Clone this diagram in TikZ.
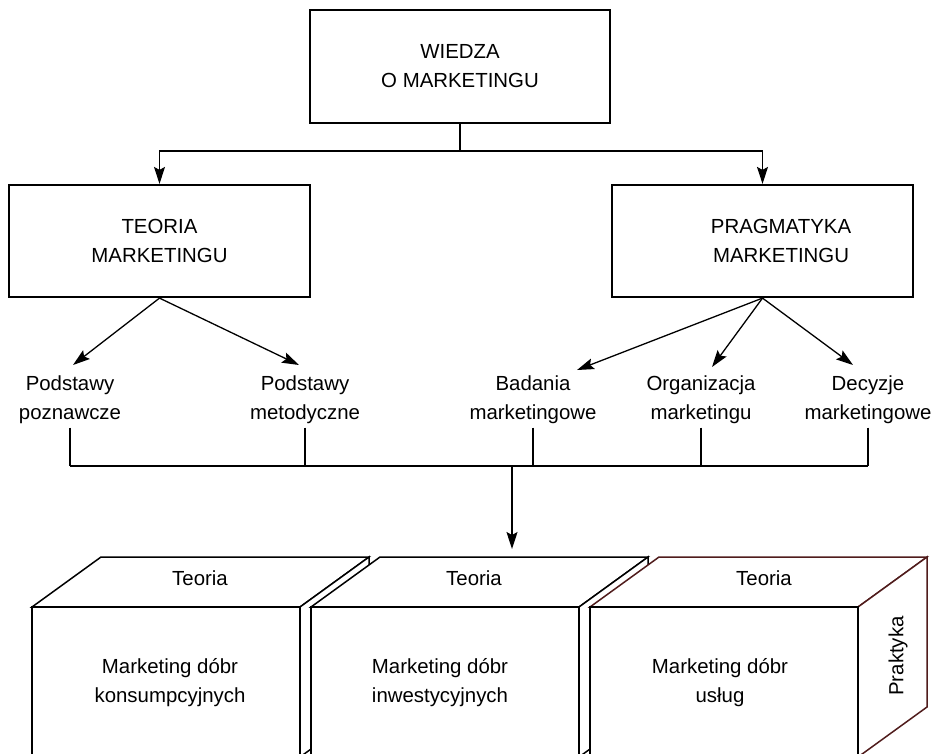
\documentclass[tikz,border=0pt]{standalone}
\usepackage{fontspec}
\setmainfont{Liberation Sans}
\usetikzlibrary{arrows.meta}
\definecolor{edgebrown}{RGB}{80,28,28}
\begin{document}
\begin{tikzpicture}[x=1pt,y=-1pt,
  every node/.style={font=\fontsize{20.4}{29}\selectfont, inner sep=0pt, align=center},
  box/.style={draw, line width=2.2pt, fill=white},
  conn/.style={line width=1.3pt},
  arr/.style={conn, -{Stealth[length=17pt,width=11pt,inset=3pt]}},
  front/.style={draw, line width=2.5pt, fill=white},
  face/.style={draw, line width=1.5pt, fill=white, line join=miter},
]
\useasboundingbox (0,0) rectangle (936,753);
\clip (0,0) rectangle (936,753);

% --- boxes ---
\node[box, minimum width=300pt, minimum height=113pt] (wiedza) at (460,66.5) {WIEDZA\\O MARKETINGU};
\node[box, minimum width=301pt, minimum height=112pt] (teoria) at (159.5,241) {TEORIA\\MARKETINGU};
\node[box, minimum width=301pt, minimum height=112pt] (prag) at (762.5,241) {};
\node (pragtext) at (781,241) {PRAGMATYKA\\MARKETINGU};

\draw[arr] (wiedza.south) -- ++(0,27) -| (teoria.north);
\draw[arr] (wiedza.south) -- ++(0,27) -| (prag.north);

% --- second level labels ---
\node (pozn) at (70,400) {Podstawy\\poznawcze};
\node (metod) at (305,400) {Podstawy\\metodyczne};
\node (bad) at (533,400) {Badania\\marketingowe};
\node (org) at (701,400) {Organizacja\\marketingu};
\node (dec) at (868,400) {Decyzje\\marketingowe};

\coordinate (t-pozn) at (73,365);
\coordinate (t-metod) at (299,365);
\coordinate (t-bad) at (577,370);
\coordinate (t-org) at (712,367);
\coordinate (t-dec) at (853,365);

\draw[arr] (teoria.south) -- (t-pozn);
\draw[arr] (teoria.south) -- (t-metod);
\draw[arr] (prag.south) -- (t-bad);
\draw[arr] (prag.south) -- (t-org);
\draw[arr] (prag.south) -- (t-dec);

% --- collecting bar ---
\coordinate (bar) at (0,466);
\foreach \n in {pozn,metod,bad,org,dec}
  \draw[conn] ([yshift=-3.5pt]\n.south) -- (\n.south |- bar);
\draw[conn] (pozn.south |- bar) -- (dec.south |- bar);
\coordinate (drop) at (512,466);
\coordinate (droptip) at (512,549);
\draw[arr] (drop) -- (droptip);

% --- cubes: front-left x, width 268, top 607, bottom 757, depth (69,-50) ---
\foreach \L/\col in {32/black,311/black,590/edgebrown}{
  \draw[face, draw=\col] (\L,607) -- ({\L+69},557) -- ({\L+337},557) -- ({\L+268},607) -- cycle;
  \draw[face, draw=\col] ({\L+268},607) -- ({\L+337},557) -- ({\L+337},707) -- ({\L+268},757) -- cycle;
  \draw[front] (\L,607) rectangle ({\L+268},757);
}

\node (top1) at (200,578) {Teoria};
\node (top2) at (474,578) {Teoria};
\node (top3) at (764,578) {Teoria};

\node (fr1) at (170,683) {Marketing dóbr\\konsumpcyjnych};
\node (fr2) at (440,683) {Marketing dóbr\\inwestycyjnych};
\node (fr3) at (720,683) {Marketing dóbr\\usług};

\node[rotate=90] (side3) at (898,656) {Praktyka};
\end{tikzpicture}
\end{document}
